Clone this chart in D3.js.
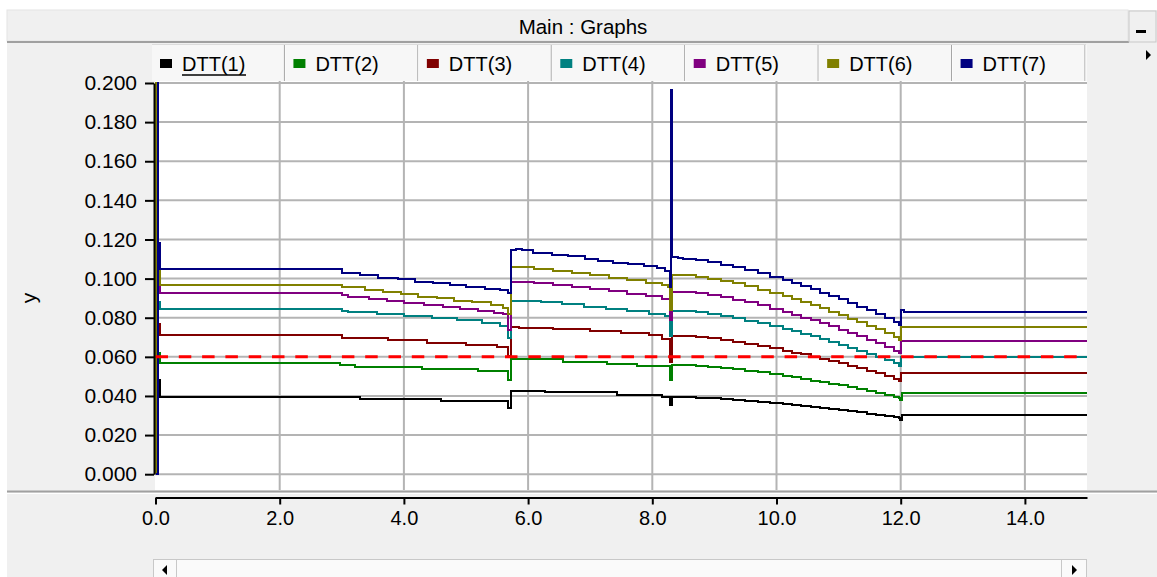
<!DOCTYPE html>
<html><head><meta charset="utf-8">
<script src="https://cdn.jsdelivr.net/npm/d3@7"></script>
<style>
html,body{margin:0;padding:0;background:#fff;}
svg{display:block;font-family:"Liberation Sans",Arial,sans-serif;}
</style></head><body>
<svg id="chart" width="1157" height="577"></svg>
<script>
// ---- data ----
const seriesNames = ["DTT(1)","DTT(2)","DTT(3)","DTT(4)","DTT(5)","DTT(6)","DTT(7)"];
const seriesColors = ["#000000","#008000","#800000","#008080","#800080","#808000","#000080"];

// step samples [time, value]
const dtt1 = [[0,0],[0.005,0.25],[0.03,0.048],[0.07,0.0394],
  [3.3,0.0386],[4.6,0.0372],[5.68,0.0338],[5.72,0.0423],[6.28,0.0418],[7.43,0.0406],[8.15,0.0397],
  [8.29,0.0355],[8.31,0.0394],
  [8.5,0.0393],[8.7,0.0391],[8.9,0.0388],[9.1,0.0384],[9.3,0.0380],[9.5,0.0375],[9.7,0.0370],
  [9.9,0.0364],[10.1,0.0358],[10.25,0.0354],[10.4,0.0349],[10.55,0.0344],[10.7,0.0339],[10.85,0.0333],
  [11.0,0.0328],[11.15,0.0322],[11.3,0.0316],[11.45,0.0310],[11.6,0.0304],[11.75,0.0298],[11.9,0.0291],
  [11.97,0.0287],[11.99,0.0277],[12.02,0.0304],[15,0.0304]];
const dtt2 = [[0,0],[0.01,0.25],[0.03,0.062],[0.07,0.0568],
  [2.97,0.0556],[3.21,0.0548],[4.29,0.0537],[5.2,0.0527],[5.68,0.0483],[5.72,0.0589],[6.56,0.0576],
  [7.27,0.0565],[7.76,0.0551],[8.29,0.0483],[8.31,0.0559],
  [8.5,0.0558],[8.7,0.0554],[8.9,0.0549],[9.1,0.0543],[9.3,0.0536],[9.5,0.0529],[9.7,0.0521],
  [9.9,0.0512],[10.1,0.0503],[10.25,0.0495],[10.4,0.0487],[10.55,0.0479],[10.7,0.0471],[10.85,0.0463],
  [11.0,0.0454],[11.15,0.0445],[11.3,0.0436],[11.45,0.0426],[11.6,0.0416],[11.75,0.0406],[11.9,0.0396],
  [11.97,0.0389],[11.99,0.0380],[12.02,0.0415],[15,0.0415]];
const dtt3 = [[0,0],[0.01,0.25],[0.03,0.077],[0.07,0.0711],
  [3.0,0.0696],[3.75,0.0684],[4.37,0.0670],[5.0,0.0660],[5.5,0.0650],[5.68,0.0602],[5.72,0.0755],
  [5.85,0.0747],[6.4,0.0741],[7.0,0.0733],[7.5,0.0723],[7.95,0.0711],[8.15,0.0690],[8.29,0.0576],
  [8.31,0.0708],
  [8.5,0.0706],[8.7,0.0701],[8.9,0.0695],[9.1,0.0687],[9.3,0.0678],[9.5,0.0668],[9.7,0.0657],
  [9.9,0.0645],[10.1,0.0632],[10.25,0.0622],[10.4,0.0612],[10.55,0.0601],[10.7,0.0590],[10.85,0.0578],
  [11.0,0.0566],[11.15,0.0554],[11.3,0.0542],[11.45,0.0529],[11.6,0.0516],[11.75,0.0502],[11.9,0.0488],
  [11.97,0.0479],[12.0,0.0517],[15,0.0517]];
const dtt4 = [[0,0],[0.01,0.25],[0.03,0.088],[0.07,0.0844],
  [3.0,0.0835],[3.1,0.0827],[3.56,0.0818],[4.0,0.0810],[4.45,0.0798],[4.86,0.0786],[5.25,0.0774],
  [5.55,0.0760],[5.68,0.0696],[5.72,0.0886],[6.2,0.0879],[6.55,0.0869],[6.9,0.0857],[7.25,0.0845],
  [7.6,0.0833],[7.95,0.0820],[8.2,0.0807],[8.29,0.0704],[8.31,0.0835],
  [8.5,0.0833],[8.7,0.0827],[8.9,0.0819],[9.1,0.0809],[9.3,0.0798],[9.5,0.0785],[9.7,0.0772],
  [9.9,0.0757],[10.1,0.0742],[10.25,0.0730],[10.4,0.0717],[10.55,0.0704],[10.7,0.0690],[10.85,0.0676],
  [11.0,0.0661],[11.15,0.0646],[11.3,0.0631],[11.45,0.0615],[11.6,0.0599],[11.75,0.0582],[11.9,0.0566],
  [11.97,0.0554],[12.0,0.0599],[15,0.0599]];
const dtt5 = [[0,0],[0.01,0.25],[0.03,0.096],[0.07,0.0927],
  [3.0,0.0917],[3.1,0.0908],[3.43,0.0897],[3.72,0.0886],[4.0,0.0875],[4.33,0.0866],[4.63,0.0854],
  [4.9,0.0844],[5.2,0.0834],[5.45,0.0825],[5.6,0.0818],[5.68,0.0738],[5.72,0.0985],[6.1,0.0978],
  [6.4,0.0968],[6.7,0.0958],[7.0,0.0946],[7.3,0.0935],[7.6,0.0922],[7.9,0.0909],[8.15,0.0897],
  [8.29,0.0789],[8.31,0.0934],
  [8.5,0.0931],[8.7,0.0925],[8.9,0.0916],[9.1,0.0905],[9.3,0.0892],[9.5,0.0878],[9.7,0.0863],
  [9.9,0.0847],[10.1,0.0829],[10.25,0.0816],[10.4,0.0801],[10.55,0.0787],[10.7,0.0771],[10.85,0.0756],
  [11.0,0.0739],[11.15,0.0722],[11.3,0.0705],[11.45,0.0687],[11.6,0.0669],[11.75,0.0651],[11.9,0.0632],
  [11.97,0.0619],[12.0,0.0682],[15,0.0682]];
const dtt6 = [[0,0],[0.01,0.25],[0.03,0.115],[0.07,0.0967],
  [3.0,0.0956],[3.37,0.0943],[3.67,0.0931],[3.96,0.0921],[4.23,0.0908],[4.53,0.0900],[4.8,0.0888],
  [5.1,0.0880],[5.4,0.0866],[5.6,0.0852],[5.68,0.0820],[5.72,0.1057],[6.1,0.1050],[6.4,0.1040],
  [6.7,0.1028],[7.0,0.1016],[7.3,0.1004],[7.6,0.0991],[7.9,0.0978],[8.15,0.0965],[8.25,0.0956],
  [8.29,0.0840],[8.31,0.1019],
  [8.5,0.1016],[8.7,0.1009],[8.9,0.1000],[9.1,0.0988],[9.3,0.0975],[9.5,0.0960],[9.7,0.0944],
  [9.9,0.0927],[10.1,0.0909],[10.25,0.0894],[10.4,0.0879],[10.55,0.0864],[10.7,0.0848],[10.85,0.0831],
  [11.0,0.0814],[11.15,0.0796],[11.3,0.0778],[11.45,0.0759],[11.6,0.0740],[11.75,0.0721],[11.9,0.0700],
  [11.97,0.0687],[12.0,0.0752],[15,0.0752]];
const dtt7 = [[0,0],[0.04,0.25],[0.045,0.118],[0.08,0.1048],
  [3.0,0.1028],[3.29,0.1016],[3.59,0.1005],[3.91,0.0997],[4.18,0.0985],[4.47,0.0975],[4.74,0.0968],
  [5.0,0.0958],[5.3,0.0949],[5.55,0.0940],[5.68,0.0925],[5.72,0.1147],[5.8,0.1152],[5.9,0.1147],
  [6.08,0.1130],[6.38,0.1121],[6.64,0.1113],[6.92,0.1101],[7.13,0.1091],[7.37,0.1082],[7.61,0.1074],
  [7.86,0.1066],[8.07,0.1053],[8.2,0.1041],[8.29,0.0959],[8.30,0.1964],[8.32,0.1112],[8.42,0.1104],
  [8.5,0.1101],[8.7,0.1094],[8.9,0.1084],[9.1,0.1072],[9.3,0.1059],[9.5,0.1044],[9.7,0.1028],
  [9.9,0.1010],[10.1,0.0991],[10.25,0.0976],[10.4,0.0961],[10.55,0.0945],[10.7,0.0928],[10.85,0.0911],
  [11.0,0.0894],[11.15,0.0876],[11.3,0.0857],[11.45,0.0838],[11.6,0.0818],[11.75,0.0798],[11.9,0.0778],
  [11.97,0.0764],[12.0,0.0841],[12.05,0.0829],[15,0.0829]];
const seriesData = [dtt1,dtt2,dtt3,dtt4,dtt5,dtt6,dtt7];

const xTicks = [0,2,4,6,8,10,12,14];
const yTicks = [0,0.02,0.04,0.06,0.08,0.10,0.12,0.14,0.16,0.18,0.20];
const limitValue = 0.060;
const titleText = "Main : Graphs";
const yLabel = "y";

// ---- layout ----
const W = 1157, H = 577;
const plot = {left:155, right:1087, top:81, bottom:490};
const x = d3.scaleLinear().domain([0,15]).range([155.5,1087]);
const y = d3.scaleLinear().domain([0,0.2]).range([474.2,83]);

const svg = d3.select("#chart");

// window panel
svg.append("rect").attr("x",7).attr("y",10).attr("width",W-7).attr("height",H-10).attr("fill","#f0f0f0");

// title bar
svg.append("rect").attr("x",7).attr("y",10).attr("width",1121).attr("height",31)
  .attr("fill","#f0f0f0").attr("stroke","#e4e4e4");
svg.append("line").attr("x1",7).attr("x2",1129).attr("y1",42).attr("y2",42)
  .attr("stroke","#a0a0a0").attr("stroke-width",2);
svg.append("text").attr("x",583).attr("y",34).attr("text-anchor","middle")
  .attr("font-size",20.5).attr("fill","#000").text(titleText);
// minimise button
svg.append("rect").attr("x",1129).attr("y",11).attr("width",27).attr("height",31)
  .attr("fill","#f0f0f0").attr("stroke","#c8c8c8");
svg.append("rect").attr("x",1136).attr("y",30).attr("width",10).attr("height",3).attr("fill","#000");

// legend strip
const legendBand = d3.scaleBand().domain(seriesNames).range([152,1086]);
const lg = svg.append("g");
lg.append("line").attr("x1",152).attr("x2",1086).attr("y1",45).attr("y2",45).attr("stroke","#c8c8c8");
const cells = lg.selectAll("g.cell").data(seriesNames).join("g").attr("class","cell")
  .attr("transform", d => `translate(${legendBand(d)},45)`);
cells.append("rect").attr("width",legendBand.bandwidth()).attr("height",36).attr("fill","#f7f7f7");
cells.append("line").attr("x1",legendBand.bandwidth()-1).attr("x2",legendBand.bandwidth()-1)
  .attr("y1",0).attr("y2",36).attr("stroke","#a0a0a0");
cells.append("line").attr("x1",legendBand.bandwidth()).attr("x2",legendBand.bandwidth())
  .attr("y1",0).attr("y2",36).attr("stroke","#ffffff");
cells.append("rect").attr("x",8).attr("y",14).attr("width",12).attr("height",9)
  .attr("fill",(d,i) => seriesColors[i]);
cells.append("text").attr("x",30).attr("y",26).attr("font-size",20).attr("fill","#000").text(d => d);
lg.append("line").attr("x1",legendBand(seriesNames[0])+30).attr("x2",legendBand(seriesNames[0])+94)
  .attr("y1",75).attr("y2",75).attr("stroke","#000").attr("stroke-width",1.5);
// scroll arrow at the end of the legend strip
svg.append("path").attr("d","M1146,50 L1151,55 L1146,60 Z").attr("fill","#000");

// plot area
svg.append("rect").attr("x",plot.left).attr("y",plot.top)
  .attr("width",plot.right-plot.left).attr("height",plot.bottom-plot.top).attr("fill","#fff");

// grid
const grid = svg.append("g").attr("stroke","#b4b4b4").attr("stroke-width",2);
grid.selectAll("line.v").data(xTicks.filter(d => d > 0)).join("line").attr("class","v")
  .attr("x1",d => x(d)).attr("x2",d => x(d)).attr("y1",plot.top).attr("y2",plot.bottom);
grid.selectAll("line.h").data(yTicks).join("line").attr("class","h")
  .attr("x1",plot.left).attr("x2",plot.right).attr("y1",d => y(d)).attr("y2",d => y(d));

// series
svg.append("clipPath").attr("id","plotClip").append("rect")
  .attr("x",plot.left).attr("y",82).attr("width",plot.right-plot.left).attr("height",plot.bottom-82);
const line = d3.line().x(d => x(d[0])).y(d => y(d[1])).curve(d3.curveStepAfter);
svg.append("g").attr("clip-path","url(#plotClip)")
  .selectAll("path").data(seriesData).join("path")
  .attr("d", line).attr("fill","none")
  .attr("stroke",(d,i) => seriesColors[i]).attr("stroke-width",2)
  .attr("shape-rendering","crispEdges");

// limit line
svg.append("line").attr("x1",x(0)).attr("x2",1080).attr("y1",y(limitValue)).attr("y2",y(limitValue))
  .attr("stroke","#ff0000").attr("stroke-width",3).attr("stroke-dasharray","12.5,10.8");

// y axis
const yAxis = svg.append("g").attr("transform","translate(154,0)")
  .call(d3.axisLeft(y).tickValues(yTicks).tickFormat(d3.format(".3f")).tickSize(9).tickSizeOuter(0).tickPadding(8));
yAxis.select(".domain").attr("stroke","#000").attr("stroke-width",2);
yAxis.selectAll(".tick line").attr("stroke","#000").attr("stroke-width",2);
yAxis.selectAll(".tick text").attr("font-size",21).attr("fill","#000")
  .attr("font-family","'Liberation Sans',Arial,sans-serif");
svg.append("text").attr("transform","translate(36,298) rotate(-90)").attr("text-anchor","middle")
  .attr("font-size",21).attr("fill","#000").text(yLabel);

// separator under the plot
svg.append("line").attr("x1",7).attr("x2",W).attr("y1",491.5).attr("y2",491.5).attr("stroke","#a0a0a0").attr("stroke-width",2);
svg.append("line").attr("x1",7).attr("x2",W).attr("y1",493.5).attr("y2",493.5).attr("stroke","#ffffff").attr("stroke-width",1);

// x axis
const xAxis = svg.append("g").attr("transform","translate(0,497.5)")
  .call(d3.axisBottom(x).tickValues(xTicks).tickFormat(d3.format(".1f")).tickSize(7).tickSizeOuter(0).tickPadding(6));
xAxis.select(".domain").attr("stroke","#000").attr("stroke-width",2);
xAxis.selectAll(".tick line").attr("stroke","#000").attr("stroke-width",2);
xAxis.selectAll(".tick text").attr("font-size",20).attr("fill","#000")
  .attr("font-family","'Liberation Sans',Arial,sans-serif");

// scroll bar
const sb = svg.append("g");
sb.append("rect").attr("x",153.5).attr("y",559.5).attr("width",933).attr("height",20)
  .attr("fill","#fafafa").attr("stroke","#c8c8c8");
sb.append("line").attr("x1",176.5).attr("x2",176.5).attr("y1",560).attr("y2",577).attr("stroke","#c8c8c8");
sb.append("line").attr("x1",1061.5).attr("x2",1061.5).attr("y1",560).attr("y2",577).attr("stroke","#c8c8c8");
sb.append("path").attr("d","M167,565 L162,570 L167,575 Z").attr("fill","#000");
sb.append("path").attr("d","M1072,565 L1077,570 L1072,575 Z").attr("fill","#000");
</script>
</body></html>
